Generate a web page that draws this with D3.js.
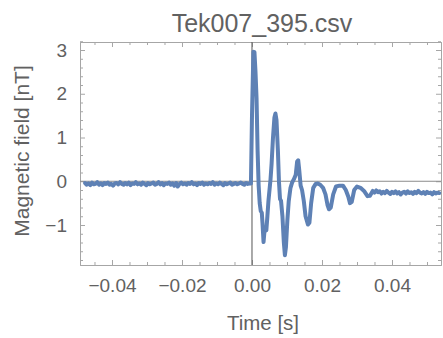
<!DOCTYPE html>
<html>
<head>
<meta charset="utf-8">
<script src="https://cdn.jsdelivr.net/npm/d3@7"></script>
<style>
  body { margin: 0; background: #fff; }
  svg { font-family: "Liberation Sans", Arial, sans-serif; }
</style>
</head>
<body>
<div id="chart"></div>
<script>
const width = 443, height = 338;

// trace
// quiet part before the trigger, sampled every 0.5 ms from -47.7 ms
const preStart = -0.0477, preStep = 0.0005;
const preField = [-0.04, -0.08, -0.05, -0.09, -0.03, -0.07, -0.06, -0.02, -0.08, -0.05,
  -0.09, -0.04, -0.06, -0.03, -0.08, -0.06, -0.10, -0.05, -0.04, -0.07,
  -0.02, -0.06, -0.08, -0.04, -0.07, -0.03, -0.09, -0.05, -0.06, -0.02,
  -0.07, -0.05, -0.08, -0.03, -0.06, -0.09, -0.04, -0.07, -0.05, -0.03,
  -0.08, -0.06, -0.02, -0.07, -0.04, -0.09, -0.05, -0.06, -0.03, -0.08,
  -0.05, -0.10, -0.04, -0.12, -0.06, -0.03, -0.07, -0.05, -0.08, -0.04,
  -0.06, -0.02, -0.07, -0.05, -0.09, -0.04, -0.06, -0.03, -0.08, -0.05,
  -0.07, -0.04, -0.06, -0.02, -0.08, -0.05, -0.07, -0.03, -0.06, -0.09,
  -0.04, -0.07, -0.05, -0.03, -0.08, -0.06, -0.04, -0.07, -0.05, -0.03,
  -0.06, -0.08, -0.04, -0.06, -0.05];
// the pulse and its ringing
const pulseTimes = [-0.0003, 0.0000, 0.0004, 0.0007, 0.0010, 0.0013, 0.0016, 0.0019, 0.0022, 0.0025, 0.0028,
  0.0030, 0.0033, 0.0035, 0.0038, 0.0041, 0.0044, 0.0047, 0.0050, 0.0053, 0.0056,
  0.0060, 0.0064, 0.0067, 0.0070, 0.0074, 0.0077, 0.0080, 0.0083, 0.0087, 0.0091,
  0.0094, 0.0097, 0.0101, 0.0105, 0.0110, 0.0115, 0.0120, 0.0125, 0.0129, 0.0132,
  0.0135, 0.0139, 0.0143, 0.0148, 0.0153, 0.0160, 0.0164, 0.0169, 0.0175, 0.0182,
  0.0188, 0.0195, 0.0203, 0.0210, 0.0216, 0.0220, 0.0225, 0.0232, 0.0240, 0.0250,
  0.0260, 0.0268, 0.0275, 0.0280, 0.0285, 0.0292, 0.0300, 0.0310, 0.0320, 0.0330,
  0.0337];
const pulseField = [-0.05, 1.5, 2.96, 2.95, 2.5, 1.9, 0.7, -0.1, -0.5, -0.68, -0.72,
  -0.95, -1.39, -1.2, -1.05, -1.12, -0.8, -0.45, -0.2, 0.05, 0.4,
  1.0, 1.45, 1.55, 1.4, 0.7, 0.0, -0.4, -0.45, -0.8, -1.4,
  -1.69, -1.5, -0.9, -0.45, -0.15, -0.02, 0.05, 0.15, 0.45, 0.48,
  0.25, -0.1, -0.2, -0.45, -0.8, -0.99, -0.95, -0.5, -0.15, -0.06,
  -0.05, -0.08, -0.15, -0.3, -0.55, -0.64, -0.6, -0.3, -0.12, -0.1,
  -0.1, -0.2, -0.35, -0.5, -0.47, -0.2, -0.12, -0.15, -0.22, -0.34,
  -0.33];
// settled tail, sampled every 0.5 ms from 34.5 ms
const tailStart = 0.0345, tailStep = 0.0005;
const tailField = [-0.22, -0.26, -0.21, -0.25, -0.23, -0.28, -0.24, -0.27, -0.22, -0.26,
  -0.29, -0.24, -0.27, -0.23, -0.28, -0.25, -0.30, -0.26, -0.24, -0.28,
  -0.23, -0.27, -0.25, -0.29, -0.24, -0.27, -0.22, -0.26, -0.28, -0.25,
  -0.29, -0.24, -0.27, -0.26, -0.30, -0.25, -0.28, -0.26, -0.27];

const xMajor = [-0.04, -0.02, 0.00, 0.02, 0.04];
const xMinor = [-0.045, -0.035, -0.03, -0.025, -0.015, -0.01, -0.005, 0.005, 0.01, 0.015, 0.025, 0.03, 0.035, 0.045, 0.05];
const yMajor = [-1, 0, 1, 2, 3];
const yMinor = [-1.8, -1.6, -1.4, -1.2, -0.8, -0.6, -0.4, -0.2, 0.2, 0.4, 0.6, 0.8,
  1.2, 1.4, 1.6, 1.8, 2.2, 2.4, 2.6, 2.8, 3.2];

const data = preField.map((v, i) => ({t: preStart + i * preStep, v: v}))
  .concat(pulseTimes.map((t, i) => ({t: t, v: pulseField[i]})))
  .concat(tailField.map((v, i) => ({t: tailStart + i * tailStep, v: v})));

const margin = {top: 42, right: 2, bottom: 73, left: 80};
const w = width - margin.left - margin.right;
const h = height - margin.top - margin.bottom;

const svg = d3.select('#chart').append('svg')
  .attr('width', width)
  .attr('height', height);

const xScale = d3.scaleLinear().domain([-0.04914, 0.054]).range([0, w]);
const yScale = d3.scaleLinear().domain([-1.914, 3.183]).range([h, 0]);

const chart = svg.append('g')
  .attr('transform', `translate(${margin.left},${margin.top})`);

const frameColor = '#a6a6a6';
const textColor = '#616161';
const fmt = d => d3.format('.2f')(d).replace('-', '\u2212');

// frame ticks point inward, on all four sides
function styleAxis(g) {
  g.select('.domain').attr('stroke', frameColor);
  g.selectAll('.tick line').attr('stroke', frameColor);
  g.selectAll('.tick text').attr('fill', textColor);
}

chart.append('g')
  .attr('transform', `translate(0,${h})`)
  .call(d3.axisBottom(xScale).tickValues(xMajor).tickSize(-5).tickSizeOuter(0)
    .tickPadding(14).tickFormat(fmt))
  .call(styleAxis)
  .call(g => g.selectAll('.tick text').attr('font-size', 19).attr('font-family', null));
chart.append('g')
  .attr('transform', `translate(0,${h})`)
  .call(d3.axisBottom(xScale).tickValues(xMinor).tickSize(-3).tickSizeOuter(0).tickFormat(''))
  .call(styleAxis);
chart.append('g')
  .call(d3.axisTop(xScale).tickValues(xMajor).tickSize(-5).tickSizeOuter(0).tickFormat(''))
  .call(styleAxis);
chart.append('g')
  .call(d3.axisTop(xScale).tickValues(xMinor).tickSize(-3).tickSizeOuter(0).tickFormat(''))
  .call(styleAxis);

chart.append('g')
  .call(d3.axisLeft(yScale).tickValues(yMajor).tickSize(-5).tickSizeOuter(0)
    .tickPadding(13).tickFormat(d => String(d).replace('-', '\u2212')))
  .call(styleAxis)
  .call(g => g.selectAll('.tick text').attr('font-size', 19).attr('font-family', null));
chart.append('g')
  .call(d3.axisLeft(yScale).tickValues(yMinor).tickSize(-3).tickSizeOuter(0).tickFormat(''))
  .call(styleAxis);
chart.append('g')
  .attr('transform', `translate(${w},0)`)
  .call(d3.axisRight(yScale).tickValues(yMajor).tickSize(-5).tickSizeOuter(0).tickFormat(''))
  .call(styleAxis);
chart.append('g')
  .attr('transform', `translate(${w},0)`)
  .call(d3.axisRight(yScale).tickValues(yMinor).tickSize(-3).tickSizeOuter(0).tickFormat(''))
  .call(styleAxis);

// axes through the origin
chart.append('line')
  .attr('x1', 0).attr('x2', w)
  .attr('y1', yScale(0)).attr('y2', yScale(0))
  .attr('stroke', '#8a8a8a').attr('stroke-width', 1);
chart.append('line')
  .attr('x1', xScale(0)).attr('x2', xScale(0))
  .attr('y1', 0).attr('y2', h)
  .attr('stroke', '#555').attr('stroke-width', 1);

const lineFunc = d3.line()
  .x(d => xScale(d.t))
  .y(d => yScale(d.v));

chart.append('path')
  .datum(data)
  .attr('fill', 'none')
  .attr('stroke', '#5e81b5')
  .attr('stroke-width', 4)
  .attr('stroke-linejoin', 'round')
  .attr('stroke-linecap', 'round')
  .attr('d', lineFunc);

// title and labels
svg.append('text')
  .attr('x', 262).attr('y', 32)
  .attr('text-anchor', 'middle')
  .attr('font-size', 25)
  .attr('fill', textColor)
  .text('Tek007_395.csv');

svg.append('text')
  .attr('x', 263).attr('y', 330)
  .attr('text-anchor', 'middle')
  .attr('font-size', 20.5)
  .attr('fill', textColor)
  .text('Time [s]');

svg.append('text')
  .attr('transform', 'translate(29,151) rotate(-90)')
  .attr('text-anchor', 'middle')
  .attr('font-size', 21)
  .attr('fill', textColor)
  .text('Magnetic field [nT]');
</script>
</body>
</html>
